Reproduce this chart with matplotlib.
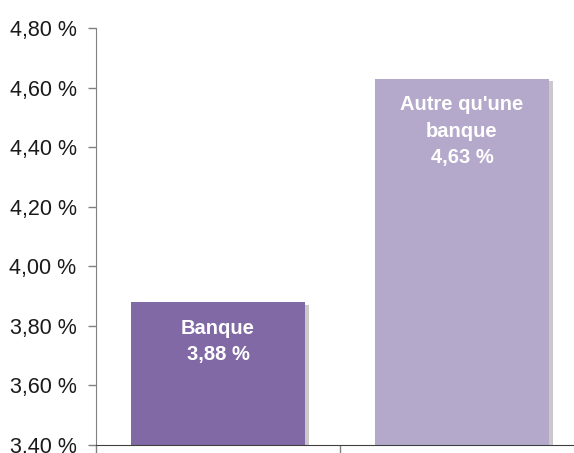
import matplotlib.pyplot as plt
import matplotlib.patheffects as pe
import numpy as np

categories = ["Banque", "Autre qu'une\nbanque"]
values = [3.88, 4.63]
colors = ["#8169a6", "#b4a9cb"]
yticks = [3.40, 3.60, 3.80, 4.00, 4.20, 4.40, 4.60, 4.80]

plt.rcParams['font.family'] = ['Liberation Sans', 'DejaVu Sans']

fig = plt.figure(figsize=(5.74, 4.53), dpi=100)
# axes runs past the right edge, as in the original
ax = fig.add_axes([96 / 574, 8 / 453, 488 / 574, 417 / 453])

x = np.arange(len(values))
bars = ax.bar(x, values, width=0.717, color=colors, zorder=2)
for b in bars:
    b.set_path_effects([pe.SimplePatchShadow(offset=(2.5, -2), shadow_rgbFace='#666666', alpha=0.35),
                        pe.Normal()])

for xi, v, cat in zip(x, values, categories):
    label = cat + "\n" + ("%.2f %%" % v).replace(".", ",")
    ax.annotate(label, (xi, v), xytext=(0, -12), textcoords='offset points',
                ha='center', va='top', color='white', fontsize=14.5, fontweight='bold',
                linespacing=1.5, zorder=3)

ax.set_ylim(3.40, 4.80)
ax.set_xlim(-0.5, 1.5)
ax.set_yticks(yticks)
ax.set_yticklabels([("%.2f %%" % t).replace(".", ",") for t in yticks], fontsize=15.5, color='#1a1a1a')
ax.set_xticks([-0.5, 0.5, 1.5])
ax.set_xticklabels([])
ax.tick_params(axis='y', direction='out', length=6, width=1, color='#808080', pad=8)
ax.tick_params(axis='x', direction='out', length=6, width=1, color='#808080')

for s in ['top', 'right']:
    ax.spines[s].set_visible(False)
ax.spines['left'].set_color('#808080')
ax.spines['bottom'].set_color('#404040')

fig.savefig('out.png', dpi=100)
